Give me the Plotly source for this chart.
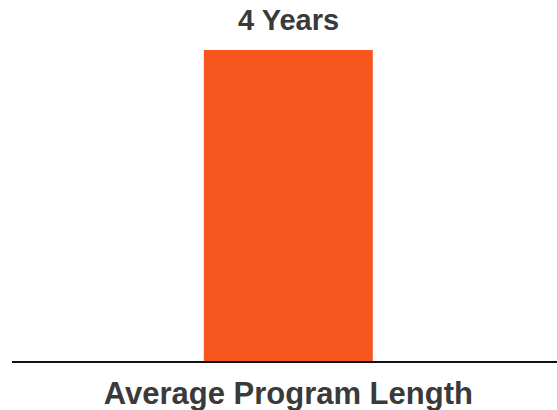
import plotly.graph_objects as go

categories = ["Average Program Length"]
values = [4]
unit = "Years"

BAR_COLOR = "#F7561E"
TEXT_COLOR = "#3a3a3a"
FONT = "Liberation Sans, Arial, sans-serif"

fig = go.Figure(
    go.Bar(
        x=categories,
        y=values,
        marker=dict(color=BAR_COLOR, line=dict(width=0)),
        width=0.31,
        hoverinfo="skip",
    )
)

# value label above the bar
for cat, val in zip(categories, values):
    fig.add_annotation(
        x=cat,
        y=val,
        text=f"<b>{val} {unit}</b>",
        showarrow=False,
        yanchor="bottom",
        yshift=12,
        font=dict(size=29, color=TEXT_COLOR, family=FONT),
    )

fig.update_layout(
    width=557,
    height=410,
    margin=dict(l=12, r=0, t=50, b=49),
    paper_bgcolor="white",
    plot_bgcolor="white",
    showlegend=False,
    xaxis=dict(
        range=[-0.507, 0.493],
        automargin=False,
        showline=True,
        linecolor="#111111",
        linewidth=2,
        showgrid=False,
        zeroline=False,
        ticks="outside",
        ticklen=4,
        tickcolor="rgba(0,0,0,0)",
        tickfont=dict(size=31, color=TEXT_COLOR, family=FONT),
        tickprefix="<b>",
        ticksuffix="</b>",
        fixedrange=True,
    ),
    yaxis=dict(
        range=[0, 4],
        visible=False,
        automargin=False,
        showgrid=False,
        zeroline=False,
        fixedrange=True,
    ),
)

fig.write_html("out.html")
